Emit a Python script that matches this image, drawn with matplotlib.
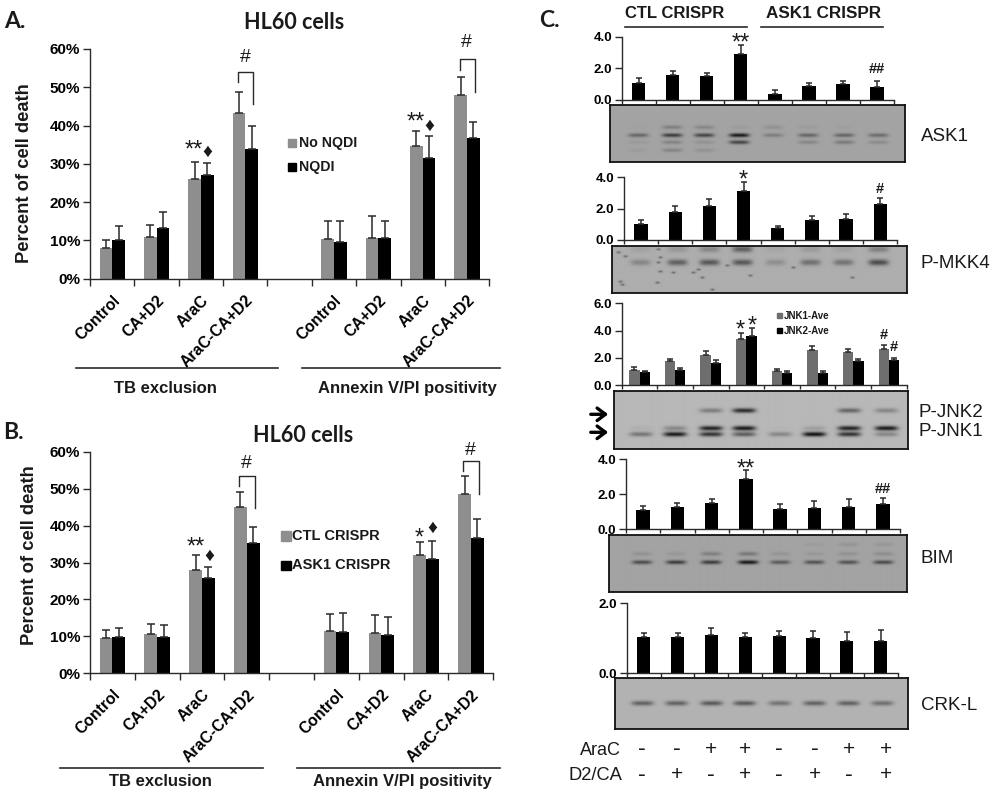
import numpy as np
import matplotlib
matplotlib.use("Agg")
import matplotlib.pyplot as plt
from matplotlib.patches import Rectangle

W, H = 993, 795
plt.rcParams['font.family'] = ['Liberation Sans', 'DejaVu Sans']
plt.rcParams['text.color'] = '#1a1a1a'

GRAY = '#8e8e8e'
DARK = '#2a2a2a'

#Panel A and B categories
categories = ['Control', 'CA+D2', 'AraC', 'AraC-CA+D2']

#Panel A values (percent)
a_no_nqdi = [8.0, 11.0, 26.0, 43.3, 10.3, 10.6, 34.7, 48.1]
a_no_nqdi_top = [10.0, 14.0, 30.5, 48.8, 15.0, 16.5, 38.7, 52.6]
a_nqdi = [10.0, 13.3, 27.0, 34.0, 9.6, 10.6, 31.6, 36.7]
a_nqdi_top = [13.7, 17.3, 30.3, 39.8, 15.0, 15.0, 37.2, 41.0]

#Panel B values
b_ctl = [9.6, 10.7, 28.0, 45.0, 11.5, 11.0, 32.0, 48.5]
b_ctl_top = [11.7, 13.3, 31.9, 49.2, 16.0, 15.7, 35.6, 53.5]
b_ask1 = [9.7, 9.7, 25.9, 35.2, 11.3, 10.4, 31.0, 36.5]
b_ask1_top = [12.4, 13.0, 28.7, 39.6, 16.2, 15.2, 35.9, 41.7]

#Panel C densitometry
ask1_vals = [1.05, 1.6, 1.5, 2.9, 0.4, 0.9, 1.0, 0.85]
ask1_top = [1.4, 1.85, 1.7, 3.5, 0.62, 1.1, 1.22, 1.17]
mkk4_vals = [1.05, 1.8, 2.2, 3.15, 0.75, 1.3, 1.35, 2.3]
mkk4_top = [1.3, 2.15, 2.6, 3.7, 0.92, 1.5, 1.65, 2.7]
jnk1_vals = [1.1, 1.75, 2.2, 3.4, 1.05, 2.55, 2.4, 2.65]
jnk1_top = [1.3, 1.92, 2.5, 3.8, 1.2, 2.85, 2.65, 2.95]
jnk2_vals = [0.95, 1.1, 1.6, 3.6, 0.85, 0.9, 1.75, 1.85]
jnk2_top = [1.05, 1.25, 1.8, 4.2, 1.0, 1.05, 1.9, 2.0]
bim_vals = [1.1, 1.3, 1.5, 2.85, 1.17, 1.2, 1.3, 1.45]
bim_top = [1.33, 1.5, 1.72, 3.4, 1.45, 1.6, 1.72, 1.78]
crk_vals = [1.03, 1.03, 1.1, 1.03, 1.07, 1.0, 0.92, 0.93]
crk_top = [1.15, 1.15, 1.3, 1.15, 1.22, 1.2, 1.17, 1.25]

araC_signs = ['-', '-', '+', '+', '-', '-', '+', '+']
d2ca_signs = ['-', '+', '-', '+', '-', '+', '-', '+']

#Blot band strengths per lane, keyed by row position
ask1_lanes = [638, 672, 704, 739, 773, 808, 844, 878]
ask1_rows = {127: [0.02, 0.25, 0.2, 0.05, 0.12, 0.05, 0.03, 0.0],
             135: [0.42, 0.7, 0.65, 0.95, 0.25, 0.42, 0.42, 0.38],
             142: [0.06, 0.22, 0.12, 0.65, 0.0, 0.2, 0.28, 0.16],
             150: [0.05, 0.22, 0.12, 0.0, 0.0, 0.0, 0.0, 0.0]}
mkk4_lanes = [640, 677, 709, 742, 775, 810, 843, 878]
mkk4_rows = {250: [0.08, 0.15, 0.25, 0.5, 0.05, 0.12, 0.08, 0.3],
             263: [0.25, 0.5, 0.55, 0.55, 0.2, 0.4, 0.38, 0.62]}
mkk4_specks = [(618, 253), (625, 257), (620, 282), (622, 285), (658, 250), (660, 258),
               (658, 263), (660, 272), (657, 283), (673, 273), (698, 270), (702, 278),
               (693, 273), (727, 266), (750, 276), (793, 268), (852, 278), (712, 290)]
jnk_lanes = [641, 675, 711, 744, 780, 814, 849, 886]
jnk_rows = {411: [0.0, 0.0, 0.35, 0.85, 0.0, 0.0, 0.5, 0.3],
            428.7: [0.05, 0.3, 0.9, 0.95, 0.02, 0.15, 0.9, 0.95],
            434.7: [0.4, 0.95, 0.8, 0.55, 0.3, 1.0, 0.8, 0.3]}
bim_lanes = [642, 676, 711, 748, 780, 814, 848, 883]
bim_rows = {544: [0.0, 0.0, 0.0, 0.0, 0.0, 0.05, 0.1, 0.08],
            553.3: [0.12, 0.08, 0.25, 0.3, 0.1, 0.08, 0.12, 0.15],
            561.7: [0.6, 0.7, 0.7, 0.95, 0.5, 0.55, 0.55, 0.6]}
crk_lanes = [642, 676, 711, 744, 779, 814, 848, 882]
crk_rows = {703.3: [0.5, 0.5, 0.55, 0.55, 0.4, 0.5, 0.5, 0.42]}


def px_axes(left, right, top, bottom):
    return fig.add_axes([left / W, 1 - bottom / H, (right - left) / W, (bottom - top) / H])


def style_axes(ax, size):
    ax.spines['top'].set_visible(False)
    ax.spines['right'].set_visible(False)
    for s in ['left', 'bottom']:
        ax.spines[s].set_linewidth(1.0)
        ax.spines[s].set_color(DARK)
    ax.tick_params(axis='y', length=5, width=1.0, labelsize=size, pad=2, color=DARK)
    ax.patch.set_alpha(0)
    for label in ax.get_yticklabels():
        label.set_fontweight('bold')


def mark(ax, x, y, s, size=17, weight='normal'):
    #Asterisks sit high in the line, so pull them down to their spot
    dy = -4.5 if '*' in s else 0
    ax.annotate(s, (x, y), xytext=(0, dy), textcoords='offset points', ha='center', va='center',
                fontsize=size, fontweight=weight, annotation_clip=False)


def bracket(ax, x, left_y, top_y, right_y):
    ax.plot([x - 0.17, x - 0.17, x + 0.18, x + 0.18], [left_y, top_y, top_y, right_y],
            color=DARK, lw=1.0, clip_on=False)


def death_panel(left, right, top, bottom, first, first_top, second, second_top):
    ax = px_axes(left, right, top, bottom)
    slots = np.array([0, 1, 2, 3, 5, 6, 7, 8])
    w = 0.285
    ax.bar(slots - w / 2, first, w, color=GRAY, edgecolor='none')
    ax.bar(slots + w / 2, second, w, color='black', edgecolor='none')
    ax.errorbar(slots - w / 2, first, yerr=[np.zeros(8), np.array(first_top) - np.array(first)],
                fmt='none', ecolor=DARK, elinewidth=1.1, capsize=3, capthick=1.1)
    ax.errorbar(slots + w / 2, second, yerr=[np.zeros(8), np.array(second_top) - np.array(second)],
                fmt='none', ecolor=DARK, elinewidth=1.1, capsize=3, capthick=1.1)
    ax.set_xlim(-0.5, 8.5)
    ax.set_ylim(0, 60)
    ax.set_yticks(range(0, 61, 10))
    ax.set_yticklabels(['%d%%' % v for v in range(0, 61, 10)])
    style_axes(ax, 11)
    ax.set_xticks(np.arange(-0.5, 9, 1), minor=True)
    ax.tick_params(axis='x', which='minor', length=5, width=1.0, color=DARK)
    ax.set_xticks(slots)
    ax.set_xticklabels(categories * 2, rotation=45, ha='right', rotation_mode='anchor',
                       fontsize=11.3, fontweight='bold')
    ax.tick_params(axis='x', which='major', length=0, pad=10)
    return ax


def bar_panel(left, right, top, bottom, ymax, ticks, vals, tops, width=0.39):
    ax = px_axes(left, right, top, bottom)
    x = np.arange(8)
    ax.bar(x, vals, width, color='black')
    ax.errorbar(x, vals, yerr=[np.zeros(8), np.array(tops) - np.array(vals)], fmt='none',
                ecolor=DARK, elinewidth=1.1, capsize=2.2, capthick=1.1)
    finish_bar(ax, ymax, ticks)
    return ax


def finish_bar(ax, ymax, ticks):
    ax.set_xlim(-0.5, 7.5)
    ax.set_ylim(0, ymax)
    ax.set_yticks(ticks)
    ax.set_yticklabels(['%.1f' % t for t in ticks])
    style_axes(ax, 9.5)
    ax.set_xticks(np.arange(-0.5, 8, 1))
    ax.set_xticklabels([])
    ax.tick_params(axis='x', length=3, width=1.0, color=DARK)


def blot(left, right, top, bottom, lanes, rows, shade, band_h=1.9, band_w=10.0, specks=()):
    ax = px_axes(left, right, top, bottom)
    xs, ys = np.meshgrid(np.arange(left, right, 0.5), np.arange(top, bottom, 0.5))
    img = np.full(xs.shape, shade, dtype=float)
    for yc, strengths in rows.items():
        for xc, s in zip(lanes, strengths):
            img -= s * shade * 0.9 * np.exp(-((xs - xc) / band_w) ** 4 - ((ys - yc) / band_h) ** 2)
    for sx, sy in specks:
        img -= 0.3 * np.exp(-((xs - sx) / 2.0) ** 2 - ((ys - sy) / 1.0) ** 2)
    ax.imshow(img, cmap='gray', vmin=0, vmax=1, aspect='auto', extent=[left, right, bottom, top],
              interpolation='bilinear')
    ax.set_xticks([])
    ax.set_yticks([])
    for s in ax.spines.values():
        s.set_linewidth(1.3)
        s.set_color('#111111')


fig = plt.figure(figsize=(W / 100, H / 100), dpi=100)

#Overlay for free text, in picture pixels
ov = fig.add_axes([0, 0, 1, 1], zorder=5)
ov.set_xlim(0, W)
ov.set_ylim(H, 0)
ov.axis('off')


def ptext(x, y, s, size, weight='normal', ha='center', family=None, rotation=0):
    ov.text(x, y, s, fontsize=size, fontweight=weight, ha=ha, va='center', rotation=rotation,
            family=family if family else ['Liberation Sans', 'DejaVu Sans'])


def hline(x0, x1, y, lw=1.2):
    ov.plot([x0, x1], [y, y], color=DARK, lw=lw)


#Panel A
ax = death_panel(90, 489.3, 49, 278.7, a_no_nqdi, a_no_nqdi_top, a_nqdi, a_nqdi_top)
mark(ax, 1.85, 35.2, '**')
mark(ax, 2.15, 33, '♦', 14)
mark(ax, 6.85, 42.4, '**')
mark(ax, 7.15, 39.9, '♦', 14)
mark(ax, 3, 57.8, '#', 14)
mark(ax, 7.98, 61.7, '#', 14)
bracket(ax, 3, 51.5, 54.1, 45.6)
bracket(ax, 8, 54.5, 57.3, 48.7)

ptext(294.3, 22.7, 'HL60 cells', 15.5, 'bold', family='Lato')
ptext(15, 21.7, 'A.', 16.5, 'bold', family='Lato')
ptext(24.5, 172.7, 'Percent of cell death', 13.2, 'bold', rotation=90)
ov.add_patch(Rectangle((288, 138.5), 8, 8, color=GRAY))
ov.add_patch(Rectangle((288, 162.5), 8, 8, color='black'))
ptext(299, 142.7, 'No NQDI', 10.2, 'bold', ha='left')
ptext(299, 166.7, 'NQDI', 10.2, 'bold', ha='left')
hline(76, 277.7, 368)
hline(302.3, 500, 368)
ptext(165, 388.3, 'TB exclusion', 12, 'bold')
ptext(407.7, 388.3, 'Annexin V/PI positivity', 12, 'bold')

#Panel B
ax = death_panel(90, 493.3, 451.7, 673.3, b_ctl, b_ctl_top, b_ask1, b_ask1_top)
mark(ax, 1.87, 35.7, '**')
mark(ax, 2.16, 31.8, '♦', 14)
mark(ax, 6.85, 38.1, '*')
mark(ax, 7.15, 39.3, '♦', 14)
mark(ax, 3, 56.9, '#', 14)
mark(ax, 7.98, 60.3, '#', 14)
bracket(ax, 3, 50.7, 53.4, 44.7)
bracket(ax, 8, 54.8, 57.5, 48.5)

ptext(303.3, 435.3, 'HL60 cells', 15.5, 'bold', family='Lato')
ptext(13.3, 432.3, 'B.', 16.5, 'bold', family='Lato')
ptext(30, 555, 'Percent of cell death', 13.2, 'bold', rotation=90)
ov.add_patch(Rectangle((281, 531), 9.5, 9.5, color=GRAY))
ov.add_patch(Rectangle((281, 560.5), 9.5, 9.5, color='black'))
ptext(291.7, 535.7, 'CTL CRISPR', 10.5, 'bold', ha='left')
ptext(291.7, 565, 'ASK1 CRISPR', 10.5, 'bold', ha='left')
hline(60, 262.7, 767.7)
hline(297.3, 500, 767.7)
ptext(160.7, 781.7, 'TB exclusion', 12, 'bold')
ptext(402.7, 781.7, 'Annexin V/PI positivity', 12, 'bold')

#Panel C header
ptext(549, 20.7, 'C.', 16.5, 'bold', family='Lato')
ptext(674.3, 13.3, 'CTL CRISPR', 12, 'bold')
ptext(823.3, 13.3, 'ASK1 CRISPR', 12.3, 'bold')
hline(625, 746.7, 27)
hline(761, 882.7, 27)

#Panel C charts
ax = bar_panel(621.7, 894, 36.7, 100, 4, [0, 2, 4], ask1_vals, ask1_top)
mark(ax, 3, 3.96, '**')
mark(ax, 7, 1.94, '##', 10.5, 'bold')

ax = bar_panel(624, 897.3, 177.3, 240, 4, [0, 2, 4], mkk4_vals, mkk4_top)
mark(ax, 3, 4.2, '*')
mark(ax, 7, 3.23, '#', 10.5, 'bold')

ax = px_axes(621.7, 906.7, 303.3, 385)
x = np.arange(8)
ax.bar(x - 0.145, jnk1_vals, 0.29, color='#6e6e6e')
ax.bar(x + 0.145, jnk2_vals, 0.29, color='black')
ax.errorbar(x - 0.145, jnk1_vals, yerr=[np.zeros(8), np.array(jnk1_top) - np.array(jnk1_vals)],
            fmt='none', ecolor=DARK, elinewidth=1.1, capsize=2, capthick=1.1)
ax.errorbar(x + 0.145, jnk2_vals, yerr=[np.zeros(8), np.array(jnk2_top) - np.array(jnk2_vals)],
            fmt='none', ecolor=DARK, elinewidth=1.1, capsize=2, capthick=1.1)
finish_bar(ax, 6, [0, 2, 4, 6])
mark(ax, 2.84, 4.45, '*')
mark(ax, 3.15, 4.77, '*')
mark(ax, 6.86, 3.7, '#', 10.5, 'bold')
mark(ax, 7.15, 2.77, '#', 10.5, 'bold')
ov.add_patch(Rectangle((777, 313), 5, 5, color='#6e6e6e'))
ov.add_patch(Rectangle((777, 328), 5, 5, color='black'))
ptext(784.3, 316, 'JNK1-Ave', 7, 'bold', ha='left')
ptext(784.3, 330.7, 'JNK2-Ave', 7, 'bold', ha='left')

ax = bar_panel(626, 900, 459.3, 529.3, 4, [0, 2, 4], bim_vals, bim_top)
mark(ax, 3, 3.8, '**')
mark(ax, 7, 2.3, '##', 10.5, 'bold')

ax = bar_panel(626.7, 897.7, 603.3, 673.3, 2, [0, 2], crk_vals, crk_top)

#Blots
blot(610, 904.7, 105, 162, ask1_lanes, ask1_rows, 0.64, band_h=1.9)
blot(611.7, 906.7, 246, 293.3, mkk4_lanes, mkk4_rows, 0.68, band_h=3.0, specks=mkk4_specks)
blot(614.3, 907.7, 390.7, 449.3, jnk_lanes, jnk_rows, 0.72, band_h=2.3, band_w=11.5)
blot(609.3, 906.7, 534.7, 591.7, bim_lanes, bim_rows, 0.64, band_h=2.0)
blot(614.7, 907.7, 678.3, 729.3, crk_lanes, crk_rows, 0.70, band_h=2.4, band_w=11.0)

ptext(920.7, 136.7, 'ASK1', 13.5, ha='left')
ptext(920.7, 263, 'P-MKK4', 13.5, ha='left')
ptext(918.3, 412.7, 'P-JNK2', 13.5, ha='left')
ptext(918.3, 431.7, 'P-JNK1', 13.5, ha='left')
ptext(920.7, 558.3, 'BIM', 13.5, ha='left')
ptext(920.7, 705.7, 'CRK-L', 13.5, ha='left')

for y in [414.3, 432.3]:
    ov.annotate('', xy=(611, y), xytext=(588, y),
                arrowprops=dict(arrowstyle='->,head_length=0.6,head_width=0.45', color='black', lw=2.4))

#Treatment rows
ptext(620.7, 750.7, 'AraC', 13, ha='right')
ptext(622.7, 776, 'D2/CA', 13.2, ha='right')
sign_x = [642, 677, 711, 745, 779, 815, 849, 886]
for sx, a, d in zip(sign_x, araC_signs, d2ca_signs):
    ptext(sx, 749.5, a, 15 if a == '+' else 17)
    ptext(sx, 774.5, d, 15 if d == '+' else 17)

fig.savefig('out.png', dpi=100)
